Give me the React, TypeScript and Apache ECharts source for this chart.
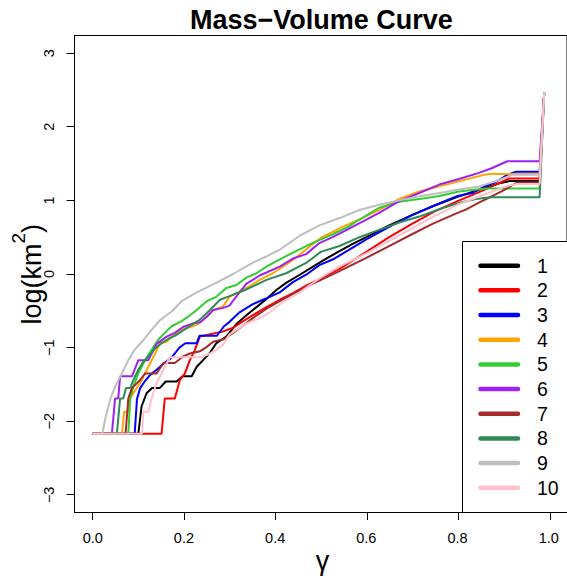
import React, { useEffect, useRef } from "react";
import * as echarts from "echarts";

const seriesNames = ["1", "2", "3", "4", "5", "6", "7", "8", "9", "10"];
const seriesColors = ["#000000", "#FF0000", "#0000FF", "#FFA500", "#32CD32", "#A020F0", "#A52A2A", "#2E8B57", "#BEBEBE", "#FFC0CB"];
const xTicks = [0, 0.2, 0.4, 0.6, 0.8, 1.0];
const yTicks = [-3, -2, -1, 0, 1, 2, 3];
const titleText = "Mass−Volume Curve";
const xTitle = "γ";
const yTitleBase = "log(km";
const yTitleSup = "2";
const yTitleEnd = ")";

const curve1 = [[0,-2.17],[0.1,-2.17],[0.107,-1.80],[0.118,-1.62],[0.13,-1.55],[0.147,-1.55],[0.16,-1.46],[0.184,-1.46],[0.197,-1.39],[0.217,-1.39],[0.228,-1.26],[0.242,-1.17],[0.257,-1.07],[0.271,-0.94],[0.293,-0.85],[0.315,-0.68],[0.337,-0.56],[0.359,-0.45],[0.381,-0.34],[0.402,-0.22],[0.424,-0.12],[0.454,-0.01],[0.483,0.10],[0.512,0.21],[0.541,0.31],[0.57,0.41],[0.6,0.50],[0.65,0.66],[0.7,0.80],[0.75,0.93],[0.8,1.05],[0.85,1.15],[0.89,1.23],[0.915,1.265],[0.98,1.265],[0.99,2.46]];
const curve2 = [[0,-2.17],[0.151,-2.17],[0.158,-1.69],[0.18,-1.69],[0.191,-1.44],[0.202,-1.35],[0.213,-1.17],[0.224,-1.03],[0.235,-0.85],[0.25,-0.83],[0.271,-0.80],[0.286,-0.78],[0.308,-0.73],[0.33,-0.64],[0.351,-0.56],[0.381,-0.45],[0.41,-0.35],[0.439,-0.26],[0.47,-0.15],[0.5,-0.06],[0.541,0.07],[0.6,0.30],[0.65,0.50],[0.7,0.68],[0.75,0.85],[0.8,0.99],[0.85,1.12],[0.89,1.23],[0.913,1.297],[0.98,1.297],[0.99,2.46]];
const curve3 = [[0,-2.17],[0.092,-2.17],[0.097,-1.70],[0.104,-1.55],[0.115,-1.45],[0.126,-1.37],[0.14,-1.30],[0.155,-1.22],[0.17,-1.15],[0.18,-1.08],[0.19,-1.0],[0.203,-0.94],[0.228,-0.94],[0.234,-0.84],[0.272,-0.84],[0.288,-0.71],[0.30,-0.65],[0.322,-0.52],[0.351,-0.41],[0.381,-0.33],[0.41,-0.25],[0.439,-0.11],[0.468,-0.01],[0.497,0.12],[0.527,0.20],[0.56,0.32],[0.6,0.47],[0.65,0.64],[0.7,0.80],[0.745,0.92],[0.8,1.06],[0.832,1.10],[0.86,1.19],[0.884,1.25],[0.91,1.35],[0.927,1.388],[0.98,1.388],[0.99,2.46]];
const curve4 = [[0,-2.17],[0.064,-2.17],[0.069,-1.87],[0.078,-1.87],[0.082,-1.69],[0.089,-1.62],[0.104,-1.48],[0.115,-1.35],[0.122,-1.26],[0.137,-1.08],[0.147,-0.94],[0.162,-0.92],[0.173,-0.85],[0.191,-0.76],[0.209,-0.73],[0.228,-0.69],[0.25,-0.58],[0.264,-0.49],[0.286,-0.44],[0.30,-0.31],[0.315,-0.26],[0.337,-0.19],[0.366,-0.08],[0.395,0.01],[0.439,0.19],[0.475,0.37],[0.5,0.49],[0.541,0.62],[0.585,0.74],[0.628,0.87],[0.672,1.02],[0.716,1.12],[0.76,1.19],[0.803,1.26],[0.847,1.33],[0.869,1.36],[0.98,1.36],[0.99,2.46]];
const curve5 = [[0,-2.17],[0.078,-2.17],[0.082,-1.71],[0.089,-1.53],[0.1,-1.35],[0.115,-1.17],[0.129,-1.03],[0.144,-0.89],[0.158,-0.80],[0.173,-0.71],[0.195,-0.64],[0.209,-0.58],[0.228,-0.49],[0.25,-0.37],[0.271,-0.31],[0.293,-0.19],[0.315,-0.15],[0.337,-0.05],[0.359,0.01],[0.381,0.10],[0.41,0.20],[0.439,0.29],[0.468,0.38],[0.497,0.46],[0.526,0.54],[0.56,0.64],[0.585,0.74],[0.628,0.90],[0.672,0.98],[0.716,1.02],[0.76,1.06],[0.803,1.12],[0.862,1.16],[0.98,1.16],[0.99,2.46]];
const curve6 = [[0,-2.17],[0.042,-2.17],[0.049,-1.69],[0.056,-1.69],[0.06,-1.39],[0.086,-1.39],[0.1,-1.17],[0.122,-1.17],[0.14,-0.95],[0.162,-0.85],[0.18,-0.80],[0.198,-0.72],[0.22,-0.67],[0.235,-0.66],[0.25,-0.58],[0.264,-0.49],[0.286,-0.46],[0.30,-0.43],[0.308,-0.36],[0.326,-0.22],[0.337,-0.13],[0.351,-0.08],[0.366,-0.02],[0.381,0.02],[0.41,0.10],[0.439,0.21],[0.468,0.27],[0.497,0.42],[0.526,0.50],[0.56,0.61],[0.6,0.74],[0.628,0.83],[0.672,0.99],[0.716,1.10],[0.76,1.215],[0.803,1.29],[0.847,1.374],[0.876,1.44],[0.909,1.532],[0.98,1.532],[0.99,2.46]];
const curve7 = [[0,-2.17],[0.072,-2.17],[0.078,-1.69],[0.086,-1.55],[0.104,-1.44],[0.115,-1.35],[0.14,-1.35],[0.155,-1.21],[0.18,-1.21],[0.198,-1.12],[0.213,-1.08],[0.235,-1.05],[0.25,-0.99],[0.264,-0.92],[0.286,-0.89],[0.308,-0.80],[0.33,-0.70],[0.351,-0.60],[0.381,-0.47],[0.41,-0.37],[0.439,-0.27],[0.483,-0.13],[0.541,0.04],[0.6,0.22],[0.65,0.38],[0.7,0.54],[0.745,0.68],[0.8,0.83],[0.818,0.875],[0.85,0.98],[0.88,1.07],[0.905,1.15],[0.93,1.242],[0.98,1.242],[0.99,2.46]];
const curve8 = [[0,-2.17],[0.053,-2.17],[0.06,-1.69],[0.067,-1.69],[0.073,-1.55],[0.082,-1.55],[0.089,-1.44],[0.1,-1.30],[0.111,-1.19],[0.122,-1.12],[0.137,-1.01],[0.151,-0.94],[0.166,-0.88],[0.18,-0.84],[0.195,-0.78],[0.215,-0.70],[0.235,-0.62],[0.257,-0.49],[0.279,-0.35],[0.30,-0.30],[0.337,-0.21],[0.381,-0.08],[0.424,0.01],[0.468,0.15],[0.5,0.30],[0.541,0.38],[0.585,0.50],[0.628,0.60],[0.672,0.70],[0.716,0.78],[0.76,0.88],[0.8,0.96],[0.84,1.02],[0.873,1.042],[0.98,1.042],[0.99,2.46]];
const curve9 = [[0,-2.17],[0.021,-2.17],[0.027,-1.98],[0.038,-1.71],[0.049,-1.53],[0.064,-1.35],[0.078,-1.17],[0.093,-1.02],[0.111,-0.90],[0.129,-0.76],[0.147,-0.63],[0.173,-0.51],[0.195,-0.37],[0.228,-0.25],[0.264,-0.14],[0.308,0.0],[0.35,0.15],[0.381,0.24],[0.41,0.33],[0.454,0.52],[0.497,0.66],[0.541,0.76],[0.585,0.87],[0.628,0.94],[0.672,1.0],[0.716,1.056],[0.76,1.10],[0.803,1.147],[0.847,1.19],[0.884,1.26],[0.913,1.33],[0.92,1.347],[0.98,1.347],[0.99,2.46]];
const curve10 = [[0,-2.17],[0.108,-2.17],[0.111,-1.87],[0.122,-1.87],[0.129,-1.69],[0.14,-1.48],[0.155,-1.30],[0.169,-1.13],[0.239,-1.13],[0.257,-1.08],[0.271,-1.03],[0.286,-0.96],[0.30,-0.82],[0.337,-0.67],[0.366,-0.60],[0.388,-0.52],[0.417,-0.38],[0.454,-0.25],[0.497,-0.06],[0.541,0.10],[0.6,0.28],[0.65,0.45],[0.7,0.62],[0.75,0.79],[0.8,0.94],[0.85,1.06],[0.88,1.13],[0.905,1.19],[0.93,1.224],[0.98,1.224],[0.99,2.46]];

const curves = [curve1, curve2, curve3, curve4, curve5, curve6, curve7, curve8, curve9, curve10];

const FONT = '"Liberation Sans", Arial, sans-serif';
const X_MIN = -0.04;
const X_MAX = 1.04;
const Y_MIN = -3.24;
const Y_MAX = 3.24;
const GRID_LEFT = 74.5;
const GRID_TOP = 35.5;
const GRID_W = 494;
const GRID_H = 477;

export default function App() {
  const ref = useRef<HTMLDivElement>(null);
  useEffect(() => {
    if (!ref.current) return;
    const chart = echarts.init(ref.current, undefined, { renderer: "svg" });
    const legendY0 = 265.7;
    const legendStep = 24.67;
    const legendGraphics: any[] = [
      {
        type: "rect",
        z: 5,
        shape: { x: 462.5, y: 241.5, width: 120, height: 271 },
        style: { fill: "#ffffff", stroke: "#000000", lineWidth: 1 },
      },
    ];
    seriesNames.forEach((name, i) => {
      const y = legendY0 + i * legendStep;
      legendGraphics.push({
        type: "line",
        z: 6,
        shape: { x1: 480.5, y1: y, x2: 518, y2: y },
        style: { stroke: seriesColors[i], lineWidth: 4.5, lineCap: "round" },
      });
      legendGraphics.push({
        type: "text",
        z: 6,
        x: 537,
        y: y,
        style: { text: name, fill: "#000", font: `19.5px ${FONT}`, textAlign: "left", textVerticalAlign: "middle" },
      });
    });

    const textGraphics: any[] = [
      {
        type: "text",
        x: 321.4,
        y: 20,
        style: { text: titleText, fill: "#000", font: `bold 27px ${FONT}`, textAlign: "center", textVerticalAlign: "middle" },
      },
      {
        type: "text",
        x: 322.5,
        y: 561,
        style: { text: xTitle, fill: "#000", font: `27px ${FONT}`, textAlign: "center", textVerticalAlign: "middle" },
      },
      {
        type: "text",
        x: 27,
        y: 274.2,
        rotation: Math.PI / 2,
        style: {
          text: `{b|${yTitleBase}}{s|${yTitleSup}}{b|${yTitleEnd}}`,
          fill: "#000",
          textAlign: "center",
          textVerticalAlign: "middle",
          rich: {
            b: { fontSize: 27, fontFamily: FONT, lineHeight: 36, verticalAlign: "bottom", fill: "#000" },
            s: { fontSize: 19, fontFamily: FONT, lineHeight: 36, verticalAlign: "top", fill: "#000" },
          },
        },
      },
    ];

    // Tick marks along the axis extents of the grid
    const snap = (p: number) => Math.round(p - 0.5) + 0.5;
    const gridBottom = GRID_TOP + GRID_H;
    const tickGraphics: any[] = [];
    xTicks.forEach((v) => {
      const x = snap(GRID_LEFT + ((v - X_MIN) / (X_MAX - X_MIN)) * GRID_W);
      tickGraphics.push({ type: "line", z: 7, shape: { x1: x, y1: gridBottom, x2: x, y2: gridBottom + 7.5 }, style: { stroke: "#000", lineWidth: 1 } });
    });
    yTicks.forEach((v) => {
      const y = snap(GRID_TOP + ((Y_MAX - v) / (Y_MAX - Y_MIN)) * GRID_H);
      tickGraphics.push({ type: "line", z: 7, shape: { x1: GRID_LEFT - 8, y1: y, x2: GRID_LEFT, y2: y }, style: { stroke: "#000", lineWidth: 1 } });
    });

    const option: any = {
      animation: false,
      grid: { left: GRID_LEFT, top: GRID_TOP, width: GRID_W, height: GRID_H, show: true, borderColor: "#000", borderWidth: 1, backgroundColor: "transparent" },
      xAxis: {
        type: "value",
        min: X_MIN,
        max: X_MAX,
        axisLine: { show: true, onZero: false, lineStyle: { color: "#000", width: 1 } },
        splitLine: { show: false },
        axisTick: { show: false },
        axisLabel: { customValues: xTicks, formatter: (v: number) => v.toFixed(1), margin: 18, fontSize: 14.5, color: "#000", fontFamily: FONT },
      },
      yAxis: {
        type: "value",
        min: Y_MIN,
        max: Y_MAX,
        axisLine: { show: true, onZero: false, lineStyle: { color: "#000", width: 1 } },
        splitLine: { show: false },
        axisTick: { show: false },
        axisLabel: {
          customValues: yTicks,
          rotate: 90,
          margin: 18,
          fontSize: 14.5,
          color: "#000",
          fontFamily: FONT,
          formatter: (v: number) => (v < 0 ? "−" + Math.abs(v) : String(v)),
        },
      },
      graphic: [...textGraphics, ...legendGraphics, ...tickGraphics],
      series: curves.map((c, i) => ({
        type: "line",
        name: seriesNames[i],
        data: c,
        showSymbol: false,
        symbol: "none",
        smooth: false,
        lineStyle: { color: seriesColors[i], width: 2 },
        itemStyle: { color: seriesColors[i] },
        z: 2 + i * 0.01,
      })),
    };
    chart.setOption(option);

    return () => chart.dispose();
  }, []);
  return <div ref={ref} style={{ position: "absolute", left: 0, top: 0, width: 567, height: 576, background: "#fff" }} />;
}
